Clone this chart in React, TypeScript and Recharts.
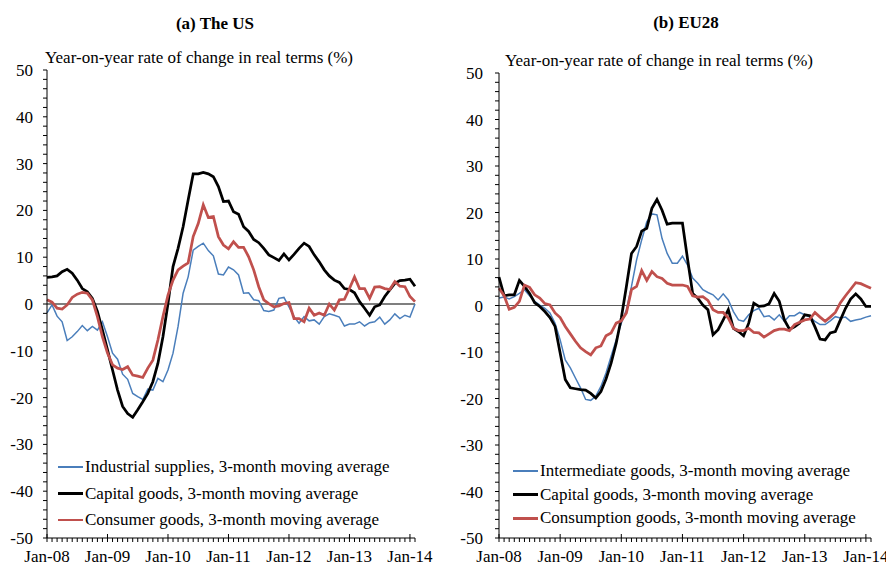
import React from "react";
import { LineChart, Line, XAxis, YAxis, ReferenceLine, Legend } from "recharts";

const FONT = "'Liberation Serif', 'Times New Roman', serif";
const FS = 17;

// months Jan-08 .. Feb-14
const monthNames = ["Jan", "Feb", "Mar", "Apr", "May", "Jun", "Jul", "Aug", "Sep", "Oct", "Nov", "Dec"];
const years = ["08", "09", "10", "11", "12", "13", "14"];
const months: string[] = [];
years.forEach((y) => monthNames.forEach((m) => months.push(`${m}-${y}`)));
months.length = 74;

const yTicks = Array.from({ length: 51 }, (_, i) => -50 + i * 2);

// (a) The US
const usIndustrial = [
  -1.9, -0.2, -2.6, -3.8, -7.8, -7.0, -5.9, -4.6, -5.7, -4.8,
  -5.6, -3.8, -7.0, -10.5, -11.8, -15.0, -16.1, -19.1, -19.8, -20.4,
  -18.2, -18.4, -15.9, -16.6, -14.1, -10.5, -4.8, 2.3, 5.8, 11.5,
  12.3, 13.0, 11.4, 10.3, 6.4, 6.2, 7.9, 7.3, 6.2, 2.3,
  2.4, 0.9, 0.7, -1.4, -1.6, -1.3, 1.2, 1.4, -0.6, -2.7,
  -4.1, -2.7, -3.6, -3.4, -4.3, -2.7, -2.1, -2.4, -2.8, -4.7,
  -4.3, -4.3, -3.8, -4.7, -4.0, -3.8, -2.8, -4.3, -3.4, -2.1,
  -3.1, -2.4, -2.8, 0.0,
];
const usCapital = [
  5.7, 5.8, 6.0, 6.9, 7.4, 6.6, 5.1, 3.3, 2.6, 1.2,
  -1.6, -5.6, -9.8, -14.1, -18.4, -21.9, -23.4, -24.2, -22.6, -20.9,
  -19.1, -16.6, -12.7, -7.0, 0.1, 8.0, 11.9, 16.5, 22.2, 27.8,
  27.8, 28.1, 27.8, 27.2, 25.1, 21.9, 22.0, 19.7, 19.2, 16.5,
  15.5, 13.8, 13.1, 11.9, 10.5, 9.9, 9.3, 10.7, 9.4, 10.6,
  11.9, 13.0, 12.3, 10.5, 9.0, 7.3, 6.0, 5.1, 4.6, 3.3,
  3.1, 2.4, 0.5, -0.9, -2.4, -0.6, -0.2, 1.6, 3.0, 4.4,
  5.0, 5.1, 5.3, 3.8,
];
const usConsumer = [
  0.9, 0.4, -0.9, -1.1, -0.2, 1.4, 2.1, 2.5, 2.3, 0.9,
  -2.7, -7.0, -10.5, -13.0, -13.7, -14.0, -13.4, -15.2, -15.4, -15.7,
  -13.7, -12.0, -7.7, -2.7, 1.9, 5.1, 7.3, 8.1, 8.8, 14.4,
  17.2, 21.2, 18.5, 18.7, 14.4, 12.6, 11.8, 13.3, 12.1, 12.1,
  10.1, 7.3, 3.7, 0.9, 0.1, -0.6, -0.4, 0.1, 0.3, -3.1,
  -3.1, -3.8, -0.9, -2.4, -1.9, -2.4, 0.0, -1.3, 0.9, 1.0,
  3.3, 5.8, 3.3, 3.3, 1.2, 3.6, 3.7, 3.3, 3.1, 4.8,
  3.8, 3.7, 1.6, 0.5,
];

// (b) EU28
const euIntermediate = [
  1.6, 1.8, 1.4, 1.9, 2.6, 3.4, 2.1, 0.9, 0.1, -0.6,
  -1.6, -3.8, -7.4, -11.7, -13.4, -15.6, -17.7, -20.2, -20.4, -19.5,
  -17.4, -14.5, -10.9, -7.4, -3.8, -0.9, 4.1, 9.8, 14.1, 18.0,
  19.7, 19.5, 14.4, 11.2, 9.1, 9.1, 10.6, 8.7, 5.9, 4.8,
  3.4, 2.8, 2.3, 1.2, 2.5, 1.2, -1.3, -3.1, -3.4, -2.0,
  -1.1, -0.6, -2.4, -2.2, -3.1, -2.0, -3.4, -2.2, -2.2, -1.5,
  -2.0, -2.5, -3.4, -4.1, -4.1, -3.3, -2.4, -2.7, -2.5, -3.4,
  -3.1, -2.9, -2.5, -2.2,
];
const euCapital = [
  6.1, 2.1, 2.3, 2.3, 5.4, 4.1, 2.6, 0.6, -0.2, -1.3,
  -2.6, -4.5, -10.2, -15.9, -17.7, -17.9, -18.1, -18.2, -18.9, -19.9,
  -18.5, -15.8, -12.4, -8.1, -2.7, 4.1, 11.2, 12.7, 16.0, 16.6,
  20.9, 22.8, 20.5, 17.5, 17.7, 17.7, 17.7, 10.0, 2.6, 1.6,
  0.1, -0.9, -6.3, -5.2, -3.1, -0.9, -4.9, -5.6, -6.5, -3.8,
  0.5, -0.2, -0.1, 0.4, 2.6, 0.9, -3.1, -5.1, -4.6, -3.8,
  -2.0, -2.2, -4.6, -7.2, -7.4, -5.9, -5.6, -3.1, -0.6, 1.4,
  2.5, 1.4, -0.2, -0.2,
];
const euConsumption = [
  3.7, 2.1, -0.8, -0.4, 0.9, 4.4, 3.9, 2.3, 1.6, 0.4,
  0.1, -1.6, -2.6, -4.5, -6.1, -7.7, -9.1, -9.9, -10.6, -9.1,
  -8.7, -6.5, -5.9, -3.8, -3.3, -1.6, 3.4, 4.1, 7.5, 5.4,
  7.3, 6.2, 5.8, 4.8, 4.4, 4.4, 4.4, 4.1, 2.1, 1.8,
  1.9, 1.1, -0.9, -1.5, -1.5, -2.7, -4.9, -5.4, -5.4, -4.9,
  -5.8, -5.9, -6.8, -6.1, -5.4, -5.1, -5.1, -5.4, -4.1, -3.6,
  -3.1, -2.9, -1.5, -2.5, -3.4, -2.5, -1.5, 0.6, 2.1, 3.5,
  4.9, 4.7, 4.2, 3.7,
];

const BLUE = "#4a7ebb";
const BLACK = "#000000";
const RED = "#c0504d";

type Series = { key: string; name: string; color: string; width: number };

const usSeries: Series[] = [
  { key: "a", name: "Industrial supplies, 3-month moving average", color: BLUE, width: 1.5 },
  { key: "b", name: "Capital goods, 3-month moving average", color: BLACK, width: 2.75 },
  { key: "c", name: "Consumer goods, 3-month moving average", color: RED, width: 2.75 },
];
const euSeries: Series[] = [
  { key: "a", name: "Intermediate goods, 3-month moving average", color: BLUE, width: 1.5 },
  { key: "b", name: "Capital goods, 3-month moving average", color: BLACK, width: 2.75 },
  { key: "c", name: "Consumption goods, 3-month moving average", color: RED, width: 2.75 },
];

const usData = months.map((month, i) => ({ month, a: usIndustrial[i], b: usCapital[i], c: usConsumer[i] }));
const euData = months.map((month, i) => ({ month, a: euIntermediate[i], b: euCapital[i], c: euConsumption[i] }));

const makeYTick = (gap: number) => (props: any) => {
  const { x, y, payload } = props;
  const v = payload.value;
  return (
    <g>
      <line x1={x - 4} x2={x} y1={y} y2={y} stroke="#000" strokeWidth={1} />
      {v % 10 === 0 && (
        <text x={x - gap} y={y} dy={6} textAnchor="end" fontSize={FS} fontFamily={FONT} fill="#000">
          {v}
        </text>
      )}
    </g>
  );
};

const XTick = (props: any) => {
  const { x, y, payload } = props;
  const isJan = String(payload.value).startsWith("Jan");
  return (
    <g>
      <line x1={x} x2={x} y1={isJan ? y - 4 : y} y2={y + 4} stroke="#000" strokeWidth={1} />
      {isJan && (
        <text x={x} y={y + 24} textAnchor="middle" fontSize={FS} fontFamily={FONT} fill="#000">
          {payload.value}
        </text>
      )}
    </g>
  );
};

function LegendBox({ items, rowHeight }: { items: Series[]; rowHeight: number }) {
  return (
    <div style={{ fontFamily: FONT, fontSize: FS, color: "#000" }}>
      {items.map((s) => (
        <div key={s.key} style={{ display: "flex", alignItems: "center", height: rowHeight, whiteSpace: "nowrap" }}>
          <span style={{ display: "inline-block", width: 25, height: s.width, background: s.color, marginRight: 2 }} />
          <span>{s.name}</span>
        </div>
      ))}
    </div>
  );
}

type PanelProps = {
  data: any[];
  series: Series[];
  left: number;
  axisWidth: number;
  labelGap: number;
  marginTop: number;
  marginRight: number;
  zeroColor: string;
  legendTop: number;
  legendLeft: number;
  rowHeight: number;
};

function Panel(p: PanelProps) {
  const YTick = makeYTick(p.labelGap);
  return (
    <div style={{ position: "absolute", left: p.left, top: 0 }}>
      <LineChart
        width={443}
        height={562}
        data={p.data}
        margin={{ top: p.marginTop, right: p.marginRight, bottom: 0, left: 0 }}
      >
        <XAxis
          dataKey="month"
          interval={0}
          height={24}
          tickSize={0}
          tickMargin={0}
          tickLine={false}
          tick={<XTick />}
          axisLine={{ stroke: "#000", strokeWidth: 1 }}
        />
        <XAxis
          xAxisId="top"
          dataKey="month"
          orientation="top"
          height={0}
          tick={false}
          tickLine={false}
          axisLine={{ stroke: "#000", strokeWidth: 1 }}
        />
        <YAxis
          domain={[-50, 50]}
          ticks={yTicks}
          interval={0}
          width={p.axisWidth}
          tickSize={0}
          tickMargin={0}
          tickLine={false}
          tick={<YTick />}
          axisLine={{ stroke: "#000", strokeWidth: 1 }}
          allowDataOverflow
        />
        <YAxis
          yAxisId="right"
          orientation="right"
          domain={[-50, 50]}
          width={0}
          tick={false}
          tickLine={false}
          axisLine={{ stroke: "#7f7f7f", strokeWidth: 1.5 }}
        />
        <ReferenceLine y={0} stroke={p.zeroColor} strokeWidth={1.2} />
        {p.series.map((s) => (
          <Line
            key={s.key}
            type="linear"
            dataKey={s.key}
            name={s.name}
            stroke={s.color}
            strokeWidth={s.width}
            dot={false}
            isAnimationActive={false}
          />
        ))}
        <Legend
          layout="horizontal"
          verticalAlign="middle"
          wrapperStyle={{ left: p.legendLeft, top: p.legendTop, width: 380 }}
          content={() => <LegendBox items={p.series} rowHeight={p.rowHeight} />}
        />
      </LineChart>
    </div>
  );
}

const textStyle: React.CSSProperties = {
  position: "absolute",
  fontFamily: FONT,
  fontSize: FS,
  lineHeight: `${FS}px`,
  color: "#000",
  whiteSpace: "nowrap",
};

export default function App() {
  return (
    <div style={{ position: "absolute", left: 0, top: 0, width: 886, height: 562, background: "#fff", overflow: "hidden" }}>
      <div style={{ ...textStyle, left: 115, top: 15, width: 200, textAlign: "center", fontWeight: "bold" }}>(a) The US</div>
      <div style={{ ...textStyle, left: 586, top: 14, width: 200, textAlign: "center", fontWeight: "bold" }}>(b) EU28</div>
      <div style={{ ...textStyle, left: 45, top: 49 }}>Year-on-year rate of change in real terms (%)</div>
      <div style={{ ...textStyle, left: 505, top: 52 }}>Year-on-year rate of change in real terms (%)</div>
      <Panel
        data={usData}
        series={usSeries}
        left={0}
        axisWidth={47}
        labelGap={14}
        marginTop={70}
        marginRight={28}
        zeroColor="#000"
        legendLeft={58}
        legendTop={454}
        rowHeight={26.4}
      />
      <Panel
        data={euData}
        series={euSeries}
        left={443}
        axisWidth={56}
        labelGap={16}
        marginTop={73}
        marginRight={15}
        zeroColor="#595959"
        legendLeft={70}
        legendTop={459}
        rowHeight={23.8}
      />
    </div>
  );
}
